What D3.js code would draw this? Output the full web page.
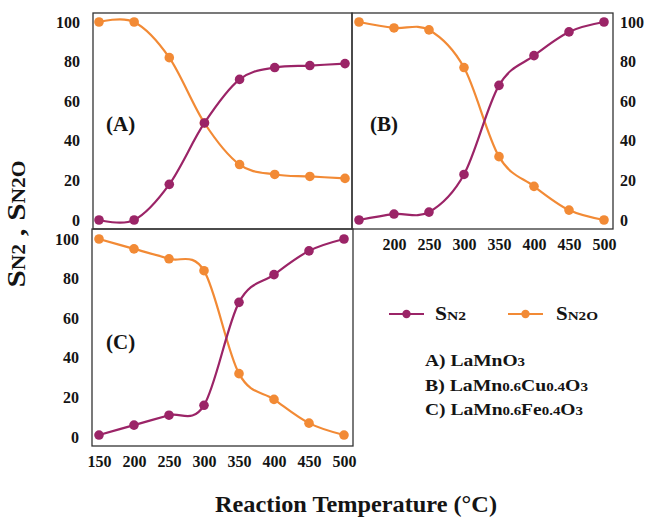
<!DOCTYPE html>
<html>
<head>
<meta charset="utf-8">
<script src="https://cdn.jsdelivr.net/npm/d3@7/dist/d3.min.js"></script>
<style>
  body { margin: 0; background: #fff; }
  svg { display: block; }
  text { font-family: "Liberation Serif", "Times New Roman", serif; font-weight: bold; fill: #141414; }
</style>
</head>
<body>
<svg id="chart" width="648" height="520"></svg>
<script>
// ---- Data ----
const temperatures = [150, 200, 250, 300, 350, 400, 450, 500];
const yTicks = [0, 20, 40, 60, 80, 100];
const xTicksB = [200, 250, 300, 350, 400, 450, 500];
const xTicksC = [150, 200, 250, 300, 350, 400, 450, 500];

const sN2_A  = [0, 0, 18, 49, 71, 77, 78, 79];
const sN2O_A = [100, 100, 82, 49, 28, 23, 22, 21];
const sN2_B  = [0, 3, 4, 23, 68, 83, 95, 100];
const sN2O_B = [100, 97, 96, 77, 32, 17, 5, 0];
const sN2_C  = [1, 6, 11, 16, 68, 82, 94, 100];
const sN2O_C = [100, 95, 90, 84, 32, 19, 7, 1];

const panelLabels = ["(A)", "(B)", "(C)"];
const seriesNames = ["N2", "N2O"];
const catalysts = [
  [["A) LaMnO", 1], ["3", 0]],
  [["B) LaMn", 1], ["0.6", 0], ["Cu", 1], ["0.4", 0], ["O", 1], ["3", 0]],
  [["C) LaMn", 1], ["0.6", 0], ["Fe", 1], ["0.4", 0], ["O", 1], ["3", 0]]
];

const colN2 = "#9b2467";
const colN2O = "#f28a35";

const svg = d3.select("#chart");

const panels = [
  { box: [93, 13, 352, 229], xr: [99, 345], yr: [220, 22], n2: sN2_A, n2o: sN2O_A, label: panelLabels[0], lp: [106, 131], yAxis: "left", xTicks: null },
  { box: [352, 13, 613, 229], xr: [359, 604], yr: [220, 22], n2: sN2_B, n2o: sN2O_B, label: panelLabels[1], lp: [370, 131], yAxis: "right", xTicks: xTicksB },
  { box: [92, 229, 353, 446], xr: [99, 344], yr: [437, 239], n2: sN2_C, n2o: sN2O_C, label: panelLabels[2], lp: [106, 349], yAxis: "left", xTicks: xTicksC }
];

panels.forEach(p => {
  const x = d3.scaleLinear().domain([150, 500]).range(p.xr);
  const y = d3.scaleLinear().domain([0, 100]).range(p.yr);
  const g = svg.append("g");
  const [x0, y0, x1, y1] = p.box;
  g.append("rect").attr("x", x0).attr("y", y0).attr("width", x1 - x0).attr("height", y1 - y0)
    .attr("fill", "none").attr("stroke", "#333").attr("stroke-width", 1.3);

  const ya = p.yAxis === "left"
    ? d3.axisLeft(y).tickValues(yTicks).tickSize(0).tickPadding(13)
    : d3.axisRight(y).tickValues(yTicks).tickSize(0).tickPadding(7);
  const yg = g.append("g").attr("transform", `translate(${p.yAxis === "left" ? x0 : x1},0)`).call(ya);
  yg.select(".domain").remove();
  yg.selectAll("text").style("font-family", '"Liberation Serif", serif').style("font-weight", "bold")
    .style("font-size", "16px").attr("fill", "#141414");

  if (p.xTicks) {
    const xa = d3.axisBottom(x).tickValues(p.xTicks).tickSize(0).tickPadding(10).tickFormat(d3.format("d"));
    const xg = g.append("g").attr("transform", `translate(0,${y1})`).call(xa);
    xg.select(".domain").remove();
    xg.selectAll("text").style("font-family", '"Liberation Serif", serif').style("font-weight", "bold")
      .style("font-size", "16px").attr("fill", "#141414");
  }

  const line = d3.line().x((d, i) => x(temperatures[i])).y(d => y(d)).curve(d3.curveCatmullRom.alpha(0));
  [[p.n2o, colN2O], [p.n2, colN2]].forEach(([vals, col]) => {
    g.append("path").datum(vals).attr("d", line).attr("fill", "none")
      .attr("stroke", col).attr("stroke-width", 2.2);
    g.selectAll(null).data(vals).enter().append("circle")
      .attr("cx", (d, i) => x(temperatures[i])).attr("cy", d => y(d)).attr("r", 4.8).attr("fill", col);
  });

  g.append("text").attr("x", p.lp[0]).attr("y", p.lp[1]).style("font-size", "21px").text(p.label);
});

// Y axis title
const yt = svg.append("text").attr("transform", "translate(25,224) rotate(-90)")
  .attr("text-anchor", "middle").attr("textLength", 127).attr("lengthAdjust", "spacingAndGlyphs");
yt.append("tspan").style("font-size", "26px").text("S");
yt.append("tspan").style("font-size", "18px").text(seriesNames[0]);
yt.append("tspan").style("font-size", "26px").text(" , S");
yt.append("tspan").style("font-size", "18px").text(seriesNames[1]);

// X axis title
svg.append("text").attr("x", 356).attr("y", 512).attr("text-anchor", "middle")
  .attr("textLength", 282).attr("lengthAdjust", "spacingAndGlyphs")
  .style("font-size", "23px").text("Reaction Temperature (\u00B0C)");

// Legend
const legendItems = [
  { name: seriesNames[0], col: colN2, lx: [389, 424], tx: 435, tw: 31 },
  { name: seriesNames[1], col: colN2O, lx: [508, 543], tx: 556, tw: 42 }
];
legendItems.forEach(it => {
  svg.append("line").attr("x1", it.lx[0]).attr("x2", it.lx[1]).attr("y1", 314).attr("y2", 314)
    .attr("stroke", it.col).attr("stroke-width", 2.2);
  svg.append("circle").attr("cx", (it.lx[0] + it.lx[1]) / 2).attr("cy", 314).attr("r", 4.2).attr("fill", it.col);
  const t = svg.append("text").attr("x", it.tx).attr("y", 320)
    .attr("textLength", it.tw).attr("lengthAdjust", "spacingAndGlyphs");
  t.append("tspan").style("font-size", "18px").text("S");
  t.append("tspan").style("font-size", "13px").text(it.name);
});

// Catalyst list
const catWidths = [100, 163, 158];
const catBase = [366, 391, 415];
catalysts.forEach((parts, i) => {
  const t = svg.append("text").attr("x", 425).attr("y", catBase[i])
    .attr("textLength", catWidths[i]).attr("lengthAdjust", "spacingAndGlyphs");
  parts.forEach(([s, big]) => {
    t.append("tspan").style("font-size", big ? "17px" : "13px").text(s);
  });
});
</script>
</body>
</html>
